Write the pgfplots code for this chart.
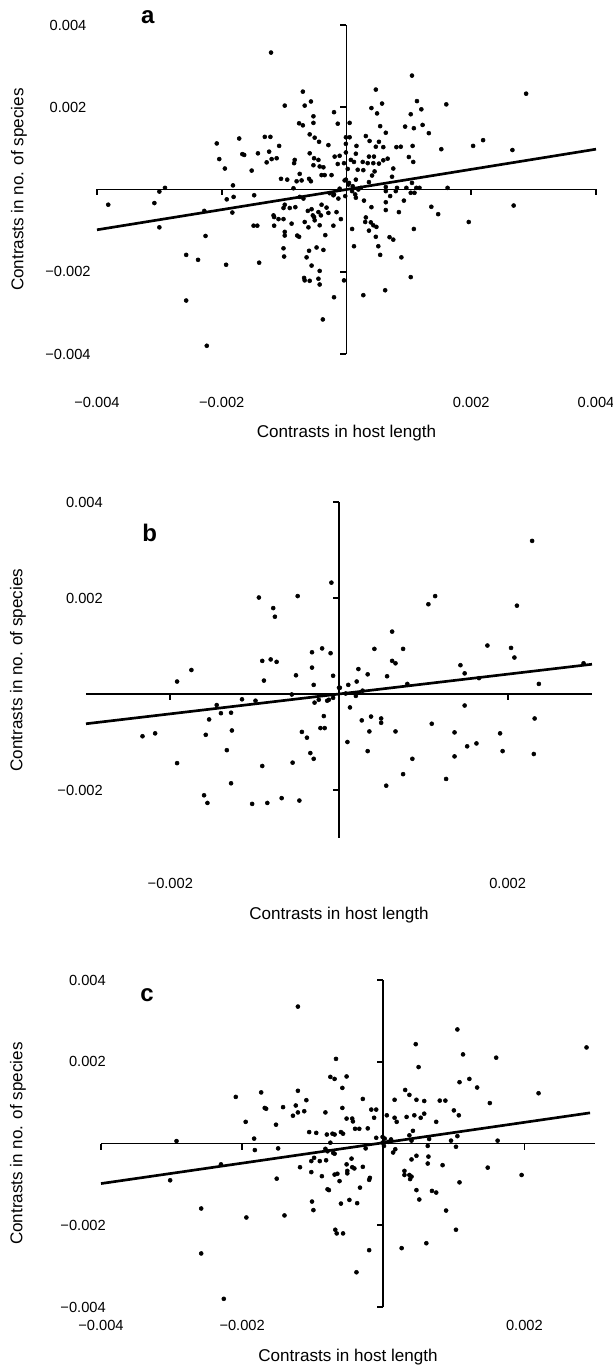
\documentclass[border=0pt]{standalone}
\usepackage{fontspec}
\setmainfont{Liberation Sans}
\usepackage{pgfplots}
\usepackage{pgfplotstable}
\pgfplotsset{compat=1.18}

% contrasts, in units of 0.001
\pgfplotstableread{
x y
-1.21 3.33
-0.70 2.38
-0.99 2.04
-0.67 2.04
-0.57 2.14
-0.20 1.88
-0.76 1.61
-0.70 1.56
-0.53 1.78
-0.53 1.62
-0.14 1.60
-0.59 1.34
-0.51 1.26
-0.44 1.16
-0.29 1.08
-2.08 1.12
-1.72 1.24
-1.31 1.28
-1.22 1.28
-1.08 1.06
-2.04 0.74
-1.67 0.86
-1.64 0.84
-1.42 0.88
-1.24 0.92
-1.28 0.66
-1.20 0.74
-1.12 0.76
-1.95 0.51
-1.52 0.46
-0.83 0.72
-0.84 0.64
-0.59 0.88
-0.52 0.76
-0.45 0.72
-0.53 0.59
-0.43 0.56
-0.37 0.54
-0.19 0.80
-0.11 0.82
-0.14 0.62
-0.75 0.38
-1.05 0.26
-0.95 0.24
-0.80 0.20
-0.72 0.22
-0.60 0.26
-0.57 0.20
-0.40 0.35
-0.35 0.35
-0.24 0.35
-0.03 0.22
-1.82 0.10
-0.85 0.03
-3.00 -0.05
-2.91 0.04
-3.82 -0.37
-3.08 -0.33
-1.92 -0.24
-1.81 -0.18
-1.48 -0.14
-2.28 -0.52
-1.83 -0.56
-3.00 -0.92
-2.26 -1.13
-1.49 -0.88
-1.43 -0.88
-1.16 -0.88
-1.17 -0.63
-1.16 -0.67
-1.09 -0.72
-1.01 -0.72
-1.01 -0.45
-0.99 -0.37
-0.91 -0.45
-0.82 -0.43
-0.75 -0.18
-0.69 -0.22
-0.88 -0.83
-0.99 -1.03
-0.99 -1.12
-0.79 -1.12
-0.76 -1.15
-0.67 -0.79
-0.62 -0.52
-0.56 -0.48
-0.54 -0.63
-0.52 -0.67
-0.51 -0.75
-0.45 -0.55
-0.41 -0.63
-0.43 -0.87
-0.61 -0.92
-0.40 -0.37
-0.32 -0.44
-0.29 -0.57
-0.21 -0.14
-0.13 -0.22
-0.16 -0.55
-0.21 -0.88
-0.34 -1.11
-1.01 -1.43
-1.00 -1.63
-0.60 -1.49
-0.48 -1.41
-0.37 -1.47
-0.64 -1.65
-0.56 -1.85
-0.43 -1.98
-0.68 -2.15
-0.67 -2.21
-0.59 -2.22
-0.45 -2.17
-0.43 -2.31
-0.20 -2.62
-0.38 -3.16
-2.57 -1.59
-2.38 -1.71
-1.93 -1.83
-1.40 -1.78
-2.57 -2.70
-2.24 -3.80
-0.09 -0.72
-0.04 -2.21
-0.27 -0.09
-0.20 -0.12
-0.11 0.02
1.05 2.77
0.47 2.43
2.88 2.33
1.13 2.15
0.57 2.09
1.20 1.95
1.60 2.07
0.40 1.98
0.49 1.85
1.03 1.83
0.05 1.62
0.54 1.54
0.94 1.53
1.08 1.49
1.22 1.57
0.63 1.38
1.32 1.37
-0.01 1.27
0.05 1.27
0.31 1.30
0.37 1.18
0.52 1.16
0.16 1.06
0.47 1.04
0.59 1.03
0.80 1.03
0.87 1.04
1.06 1.06
1.52 0.98
2.03 1.06
2.19 1.20
2.66 0.96
0.15 0.87
0.36 0.80
0.44 0.80
1.00 0.79
1.07 0.67
0.66 0.75
0.59 0.71
0.52 0.63
0.07 0.72
0.12 0.67
0.26 0.67
0.34 0.64
0.43 0.64
0.02 0.50
0.18 0.48
0.27 0.47
0.45 0.44
0.41 0.34
0.75 0.51
0.73 0.31
0.15 0.24
0.36 0.18
0.04 0.16
1.05 0.16
0.10 0.08
0.23 0.04
0.63 0.06
0.81 0.04
0.96 0.04
1.12 0.04
1.17 0.04
1.62 0.04
0.63 -0.04
0.79 -0.04
1.03 -0.08
1.09 -0.08
0.70 -0.16
0.15 -0.20
0.28 -0.27
0.63 -0.31
0.92 -0.27
0.40 -0.43
0.63 -0.50
0.84 -0.55
1.36 -0.42
1.47 -0.60
2.68 -0.39
0.31 -0.68
0.30 -0.79
0.39 -0.80
0.43 -0.87
0.36 -1.00
0.48 -0.91
0.09 -0.96
0.47 -1.15
0.69 -1.16
0.75 -1.22
1.08 -0.96
1.96 -0.79
0.51 -1.38
0.12 -1.38
0.54 -1.59
0.88 -1.65
1.03 -2.13
0.62 -2.45
0.27 -2.57
-0.01 0.24
0.03 0.12
0.09 -0.04
0.14 -0.12
0.19 0.00
-0.02 -0.16
-0.01 1.11
-0.01 0.90
-0.04 0.64
}\tabA

\pgfplotstableread{
x y
-0.09 2.32
-0.95 2.01
-0.49 2.04
-0.78 1.79
-0.76 1.61
-0.32 0.87
-0.20 0.95
-0.10 0.85
-0.91 0.69
-0.81 0.72
-0.74 0.67
-1.75 0.50
-1.92 0.26
-0.89 0.28
-0.51 0.39
-0.32 0.55
-0.30 0.19
-0.07 0.38
-0.56 -0.01
0.00 0.13
-1.15 -0.11
-0.99 -0.14
-1.45 -0.23
-1.40 -0.40
-1.28 -0.39
-1.54 -0.53
-0.29 -0.18
-0.24 -0.12
-0.14 -0.14
-0.12 -0.12
-0.07 -0.08
-0.18 -0.46
-0.22 -0.71
-0.17 -0.71
-0.44 -0.79
-0.38 -0.91
-2.33 -0.88
-2.18 -0.82
-1.58 -0.85
-1.27 -0.76
-1.33 -1.17
-1.92 -1.44
-0.91 -1.50
-0.55 -1.43
-0.34 -1.23
-0.30 -1.35
-1.28 -1.86
-1.60 -2.11
-1.56 -2.27
-1.03 -2.29
-0.85 -2.27
-0.68 -2.17
-0.47 -2.22
2.29 3.19
1.06 1.87
1.14 2.04
2.11 1.84
0.63 1.30
0.42 0.94
0.76 0.94
1.76 1.01
2.04 0.96
2.08 0.76
0.63 0.69
0.67 0.64
0.23 0.52
0.34 0.41
0.57 0.37
1.44 0.60
1.49 0.43
1.66 0.33
2.90 0.64
2.37 0.21
0.11 0.19
0.21 0.26
0.81 0.21
0.28 0.07
0.01 0.13
0.08 0.01
0.20 -0.04
0.13 -0.28
1.49 -0.24
0.27 -0.55
0.38 -0.47
0.50 -0.51
0.50 -0.60
0.36 -0.78
0.67 -0.78
1.10 -0.62
1.37 -0.80
1.91 -0.82
2.32 -0.51
0.10 -1.00
0.34 -1.19
0.87 -1.35
1.37 -1.30
1.52 -1.09
1.63 -1.03
1.94 -1.19
2.31 -1.25
0.76 -1.67
0.56 -1.91
1.27 -1.77
}\tabB

\pgfplotstableread{
x y
-1.21 3.35
-0.67 2.07
-0.75 1.63
-0.69 1.58
-0.52 1.64
-0.58 1.36
-1.21 1.29
-1.73 1.25
-2.09 1.14
-1.09 1.06
-0.29 1.09
-1.68 0.87
-1.66 0.85
-1.42 0.89
-1.24 0.93
-1.21 0.76
-1.12 0.79
-1.28 0.68
-0.82 0.76
-0.58 0.87
-0.52 0.61
-0.44 0.61
-0.43 0.54
-0.17 0.83
-0.10 0.83
-0.13 0.63
-1.95 0.53
-1.52 0.46
-1.05 0.28
-0.95 0.26
-0.80 0.22
-0.72 0.24
-0.69 0.22
-0.60 0.28
-0.57 0.24
-0.40 0.36
-0.34 0.36
-0.22 0.37
-1.83 0.12
-2.93 0.06
-0.10 0.14
-0.01 0.16
-0.75 0.02
-1.82 -0.16
-1.49 -0.12
-0.82 -0.13
-0.79 -0.19
-0.71 -0.23
-0.69 -0.25
-0.25 -0.12
-0.98 -0.35
-1.02 -0.43
-0.90 -0.43
-0.81 -0.41
-0.45 -0.37
-0.52 -0.51
-0.44 -0.58
-0.41 -0.61
-0.51 -0.67
-0.51 -0.73
-0.29 -0.57
-1.18 -0.58
-2.30 -0.51
-1.02 -0.70
-0.87 -0.80
-0.69 -0.76
-0.65 -0.74
-0.62 -0.92
-0.19 -0.84
-0.20 -0.89
-1.51 -0.86
-3.02 -0.90
-0.79 -1.12
-0.77 -1.14
-0.33 -1.08
-0.60 -1.47
-0.48 -1.38
-0.37 -1.46
-1.01 -1.42
-0.99 -1.63
-1.40 -1.76
-1.94 -1.81
-2.58 -1.59
-0.68 -2.11
-0.66 -2.20
-0.57 -2.20
-0.20 -2.61
-2.58 -2.69
-0.38 -3.15
-2.26 -3.80
-0.01 0.02
1.05 2.79
0.46 2.43
2.88 2.35
1.13 2.18
1.60 2.10
0.50 1.87
1.08 1.50
1.22 1.58
1.33 1.37
0.31 1.31
0.37 1.19
2.20 1.23
0.16 1.07
0.47 1.07
0.58 1.04
0.80 1.05
0.88 1.05
1.51 0.99
0.05 0.69
0.16 0.63
0.19 0.53
0.33 0.65
0.44 0.69
0.53 0.63
0.58 0.73
1.00 0.81
1.07 0.69
0.75 0.53
0.42 0.31
0.37 0.20
1.05 0.18
0.96 0.07
1.62 0.07
0.11 0.10
0.40 0.07
0.65 0.11
0.63 -0.06
1.03 -0.08
0.17 -0.14
0.14 -0.22
0.47 -0.30
0.64 -0.32
0.40 -0.39
0.63 -0.49
0.84 -0.53
1.48 -0.59
0.30 -0.67
0.30 -0.77
0.37 -0.77
0.40 -0.81
0.38 -0.87
1.96 -0.77
1.08 -0.95
0.47 -1.14
0.69 -1.16
0.75 -1.20
0.51 -1.37
0.89 -1.64
1.03 -2.11
0.61 -2.44
0.26 -2.56
0.02 0.12
0.07 0.04
0.01 -0.06
}\tabC

\newcommand\labfont{\fontsize{12.8}{15}\selectfont}
\newcommand\tickfont{\fontsize{11}{13}\selectfont}

\pgfplotsset{
  contrast/.style={
    scale only axis, clip=false,
    axis line style={draw=none},
    major tick length=0pt,
    xlabel={Contrasts in host length},
    ylabel={Contrasts in no. of species},
  },
  dots/.style={only marks, mark=*, mark size=1.5pt, black},
  fit/.style={black, line width=2pt, no marks},
}
\tikzset{
  cross/.style={black, line width=1.3pt},
  letter/.style={font=\fontsize{18}{20}\selectfont\bfseries},
}

\begin{document}
\begin{tikzpicture}
\path[use as bounding box] (0,0) rectangle (459.75pt,1023.75pt);

% panel a
\begin{axis}[contrast,
  at={(72.75pt,758.25pt)}, anchor=south west,
  width=374.25pt, height=246.75pt,
  xmin=-4, xmax=4, ymin=-4, ymax=4,
  xtick={-4,-2,2,4}, xticklabels={−0.004,−0.002,0.002,0.004},
  ytick={-4,-2,2,4}, yticklabels={−0.004,−0.002,0.002,0.004},
  xticklabel style={font=\tickfont, anchor=center, yshift=-36pt},
  yticklabel style={font=\tickfont, anchor=center, xshift=-21.75pt},
  every axis x label/.style={font=\labfont, at={(rel axis cs:0.5,0)}, anchor=center, yshift=-59.25pt},
  every axis y label/.style={font=\labfont, at={(rel axis cs:0,0.5)}, xshift=-58.5pt, rotate=90, anchor=center},
]
\draw[cross] (axis cs:-4,0) -- (axis cs:4,0);
\draw[cross] (axis cs:0,-4) -- (axis cs:0,4);
\draw[cross] (axis cs:-4,0) -- ([yshift=-4.5pt]axis cs:-4,0);
\draw[cross] (axis cs:-2,0) -- ([yshift=-4.5pt]axis cs:-2,0);
\draw[cross] (axis cs:2,0) -- ([yshift=-4.5pt]axis cs:2,0);
\draw[cross] (axis cs:4,0) -- ([yshift=-4.5pt]axis cs:4,0);
\draw[cross] (axis cs:0,4) -- ([xshift=-4.5pt]axis cs:0,4);
\draw[cross] (axis cs:0,2) -- ([xshift=-4.5pt]axis cs:0,2);
\draw[cross] (axis cs:0,-2) -- ([xshift=-4.5pt]axis cs:0,-2);
\draw[cross] (axis cs:0,-4) -- ([xshift=-4.5pt]axis cs:0,-4);
\addplot[dots] table[x=x, y=y] {\tabA};
\addplot[fit] coordinates {(-4,-0.98) (4,0.98)};
\node[letter] at (rel axis cs:0.102,1.024) {a};
\end{axis}

% panel b
\begin{axis}[contrast,
  at={(64.5pt,395.25pt)}, anchor=south west,
  width=379.5pt, height=252pt,
  xmin=-3, xmax=3, ymin=-3, ymax=4,
  xtick={-2,2}, xticklabels={−0.002,0.002},
  ytick={-2,2,4}, yticklabels={−0.002,0.002,0.004},
  xticklabel style={font=\tickfont, anchor=center, yshift=-33.75pt},
  yticklabel style={font=\tickfont, anchor=east, inner sep=0pt, xshift=12.75pt},
  every axis x label/.style={font=\labfont, at={(rel axis cs:0.5,0)}, anchor=center, yshift=-57.75pt},
  every axis y label/.style={font=\labfont, at={(rel axis cs:0,0.5)}, xshift=-51pt, rotate=90, anchor=center},
]
\draw[cross] (axis cs:-3,0) -- (axis cs:3,0);
\draw[cross] (axis cs:0,-3) -- (axis cs:0,4);
\draw[cross] (axis cs:-2,0) -- ([yshift=-4.5pt]axis cs:-2,0);
\draw[cross] (axis cs:2,0) -- ([yshift=-4.5pt]axis cs:2,0);
\draw[cross] (axis cs:0,4) -- ([xshift=-4.5pt]axis cs:0,4);
\draw[cross] (axis cs:0,2) -- ([xshift=-4.5pt]axis cs:0,2);
\draw[cross] (axis cs:0,-2) -- ([xshift=-4.5pt]axis cs:0,-2);
\addplot[dots] table[x=x, y=y] {\tabB};
\addplot[fit] coordinates {(-3,-0.62) (3,0.62)};
\node[letter] at (rel axis cs:0.126,0.908) {b};
\end{axis}

% panel c
\begin{axis}[contrast,
  at={(75.75pt,43.5pt)}, anchor=south west,
  width=370.5pt, height=245.25pt,
  xmin=-4, xmax=3, ymin=-4, ymax=4,
  xtick={-4,-2,2}, xticklabels={−0.004,−0.002,0.002},
  ytick={-4,-2,2,4}, yticklabels={−0.004,−0.002,0.002,0.004},
  xticklabel style={font=\tickfont, anchor=center, yshift=-13.5pt},
  yticklabel style={font=\tickfont, anchor=east, inner sep=0pt, xshift=3.75pt},
  every axis x label/.style={font=\labfont, at={(rel axis cs:0.5,0)}, anchor=center, yshift=-37.5pt},
  every axis y label/.style={font=\labfont, at={(rel axis cs:0,0.5)}, xshift=-62.25pt, rotate=90, anchor=center},
]
\draw[cross] (axis cs:-4,0) -- (axis cs:3,0);
\draw[cross] (axis cs:0,-4) -- (axis cs:0,4);
\draw[cross] (axis cs:-4,0) -- ([yshift=-4.5pt]axis cs:-4,0);
\draw[cross] (axis cs:-2,0) -- ([yshift=-4.5pt]axis cs:-2,0);
\draw[cross] (axis cs:2,0) -- ([yshift=-4.5pt]axis cs:2,0);
\draw[cross] (axis cs:0,4) -- ([xshift=-4.5pt]axis cs:0,4);
\draw[cross] (axis cs:0,2) -- ([xshift=-4.5pt]axis cs:0,2);
\draw[cross] (axis cs:0,-2) -- ([xshift=-4.5pt]axis cs:0,-2);
\draw[cross] (axis cs:0,-4) -- ([xshift=-4.5pt]axis cs:0,-4);
\addplot[dots] table[x=x, y=y] {\tabC};
\addplot[fit] coordinates {(-4,-0.98) (2.93,0.75)};
\node[letter] at (rel axis cs:0.093,0.954) {c};
\end{axis}
\end{tikzpicture}
\end{document}
